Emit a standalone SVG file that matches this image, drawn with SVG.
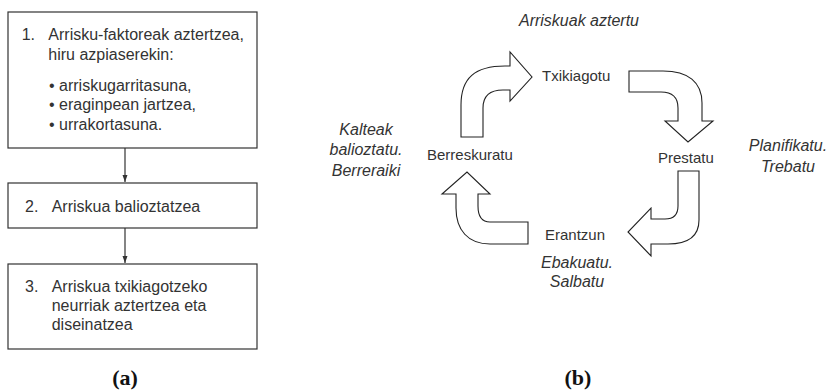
<svg xmlns="http://www.w3.org/2000/svg" width="837" height="391" viewBox="0 0 837 391">
<style>
.box{fill:#fff;stroke:#333;stroke-width:1.2}
.t{font-family:"Liberation Sans",Arial,sans-serif;font-size:16px;fill:#333}
.n{font-family:"Liberation Sans",Arial,sans-serif;font-size:15px;fill:#333}
.i{font-family:"Liberation Sans",Arial,sans-serif;font-size:16px;font-style:italic;fill:#333;text-anchor:middle}
.cap{font-family:"Liberation Serif","Times New Roman",serif;font-size:22px;font-weight:bold;fill:#111;text-anchor:middle}
.conn{stroke:#333;stroke-width:1.2;fill:none}
.arr{fill:#fff;stroke:#222;stroke-width:1.1;stroke-linejoin:miter}
</style>
<defs>
<marker id="ah" markerWidth="8" markerHeight="8" refX="7" refY="4" orient="auto" markerUnits="userSpaceOnUse">
<path d="M0,1.5 L7,4 L0,6.5 Z" fill="#333"/>
</marker>
</defs>
<rect width="837" height="391" fill="#fff"/>

<g id="box1">
<rect class="box" x="8" y="12" width="249" height="136"/>
<text class="t" x="21.7" y="40">1.</text>
<text class="t" x="48.3" y="40">Arrisku-faktoreak aztertzea,</text>
<text class="t" x="48.3" y="59.5">hiru azpiaserekin:</text>
<text class="t" x="49" y="90.7">• arriskugarritasuna,</text>
<text class="t" x="49" y="110.3">• eraginpean jartzea,</text>
<text class="t" x="49" y="130">• urrakortasuna.</text>
</g>
<g id="box2">
<rect class="box" x="8" y="183" width="249" height="45"/>
<text class="t" x="25" y="211.7">2.</text>
<text class="t" x="51.7" y="211.7">Arriskua balioztatzea</text>
</g>
<g id="box3">
<rect class="box" x="8" y="264" width="249" height="85"/>
<text class="t" x="25" y="291.7">3.</text>
<text class="t" x="51.7" y="291.7">Arriskua txikiagotzeko</text>
<text class="t" x="51.7" y="311">neurriak aztertzea eta</text>
<text class="t" x="51.7" y="330.3">diseinatzea</text>
</g>
<g id="connectors">
<line class="conn" x1="125" y1="148" x2="125" y2="182" marker-end="url(#ah)"/>
<line class="conn" x1="125" y1="228" x2="125" y2="263" marker-end="url(#ah)"/>
</g>
<text class="cap" x="125" y="385">(a)</text>

<g id="cycle-arrows">
<path class="arr" d="M461,137 V105 C461,78 475,66 505,66 H510 V52 L532,77 L510,101 V90 H503 C490,90 483,96 483,108 V137 Z"/>
<path class="arr" d="M629,71 H663 C688,71 702,82 702,103 V121 H713 L688,142 L665,121 H678 V108 C678,97 672,92 661,92 H629 Z"/>
<path class="arr" d="M678,171 H699 V220 C699,236 688,244 668,244 H651 V256 L628,232 L651,208 V219 H665 C674,219 678,214 678,206 Z"/>
<path class="arr" d="M528,222 H490 C482,222 478,216 478,206 V194 H490 L467,172 L442,194 H456 V208 C456,230 468,244 490,244 H528 Z"/>
</g>
<g id="txikiagotu"><text class="n" x="542" y="81">Txikiagotu</text></g>
<g id="prestatu"><text class="n" x="658" y="163">Prestatu</text></g>
<g id="erantzun"><text class="n" x="545" y="240">Erantzun</text></g>
<g id="berreskuratu"><text class="n" x="427" y="160">Berreskuratu</text></g>

<text class="i" x="579" y="26">Arriskuak aztertu</text>
<text class="i" x="788" y="151">Planifikatu.</text>
<text class="i" x="788" y="172">Trebatu</text>
<text class="i" x="577" y="268">Ebakuatu.</text>
<text class="i" x="577" y="287">Salbatu</text>
<text class="i" x="366" y="135">Kalteak</text>
<text class="i" x="366" y="155">balioztatu.</text>
<text class="i" x="366" y="176">Berreraiki</text>
<text class="cap" x="578" y="385">(b)</text>
</svg>
